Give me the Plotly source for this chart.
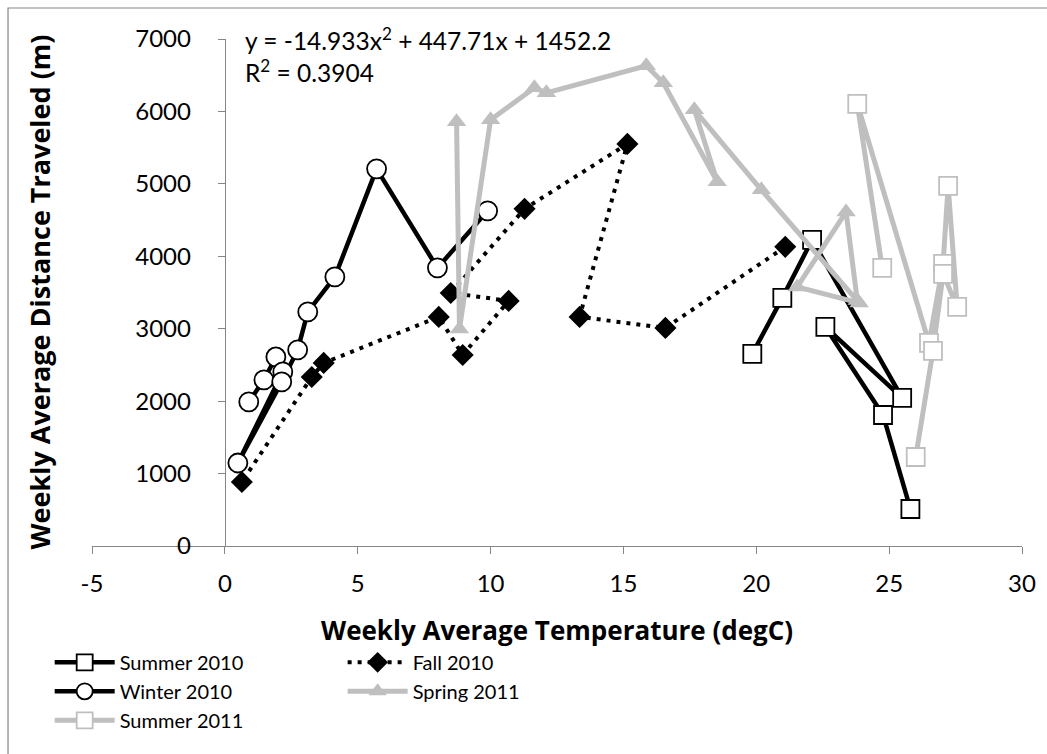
import plotly.graph_objects as go

# ---- data ----
summer2010_x = [19.85, 20.98, 22.1, 25.49, 22.6, 24.77, 25.8]
summer2010_y = [2652, 3425, 4227, 2044, 3025, 1809, 511]

fall2010_x = [21.09, 16.58, 13.35, 15.15, 11.28, 8.5, 10.68, 8.95, 8.05, 3.72, 3.27, 0.64]
fall2010_y = [4130, 3011, 3163, 5552, 4655, 3494, 3384, 2638, 3163, 2528, 2334, 884]

winter2010_x = [0.9, 1.47, 1.92, 2.18, 0.49, 2.14, 2.74, 3.12, 4.14, 5.71, 8.0, 9.89]
winter2010_y = [1989, 2293, 2610, 2403, 1146, 2265, 2707, 3232, 3715, 5207, 3840, 4627]

spring2011_x = [8.72, 8.83, 10.0, 11.65, 12.1, 15.86, 16.5, 18.53, 17.67, 20.19, 23.87, 21.54, 23.38, 23.8]
spring2011_y = [5856, 2997, 5884, 6326, 6257, 6630, 6395, 5028, 6022, 4917, 3356, 3577, 4613, 3390]

summer2011_x = [24.74, 23.8, 26.5, 27.03, 27.22, 27.56, 27.03, 26.65, 26.0]
summer2011_y = [3840, 6105, 2804, 3895, 4972, 3301, 3757, 2693, 1229]

x_ticks = [-5, 0, 5, 10, 15, 20, 25, 30]
x_tick_text = ["-5", "0", "5", "10", "15", "20", "25", "30"]
y_ticks = [0, 1000, 2000, 3000, 4000, 5000, 6000, 7000]
y_tick_text = ["0", "1000", "2000", "3000", "4000", "5000", "6000", "7000"]

equation_text = "y = -14.933x<sup>2</sup> + 447.71x + 1452.2"
r2_text = "R<sup>2</sup> = 0.3904"

FONT = "Lato"
TITLE_FONT = "Open Sans"
GRAY = "#BFBFBF"
AXIS = "#868686"

fig = go.Figure()

fig.add_trace(go.Scatter(
    x=summer2010_x, y=summer2010_y, name="Summer 2010", mode="lines+markers",
    line=dict(color="black", width=4.5),
    marker=dict(symbol="square", size=18, color="white", line=dict(color="black", width=1.8)),
    legend="legend"))

fig.add_trace(go.Scatter(
    x=fall2010_x, y=fall2010_y, name="Fall 2010", mode="lines+markers",
    line=dict(color="black", width=4, dash="4px,6px"),
    marker=dict(symbol="diamond", size=17, color="black", line=dict(color="black", width=0)),
    legend="legend2"))

fig.add_trace(go.Scatter(
    x=winter2010_x, y=winter2010_y, name="Winter 2010", mode="lines+markers",
    line=dict(color="black", width=4.5),
    marker=dict(symbol="circle", size=19, color="white", line=dict(color="black", width=1.8)),
    legend="legend"))

fig.add_trace(go.Scatter(
    x=spring2011_x, y=spring2011_y, name="Spring 2011", mode="lines+markers",
    line=dict(color=GRAY, width=5),
    marker=dict(symbol="triangle-up", size=17, color=GRAY, line=dict(color=GRAY, width=0)),
    legend="legend2"))

fig.add_trace(go.Scatter(
    x=summer2011_x, y=summer2011_y, name="Summer 2011", mode="lines+markers",
    line=dict(color=GRAY, width=5),
    marker=dict(symbol="square", size=18, color="white", line=dict(color=GRAY, width=1.8)),
    legend="legend"))

fig.add_annotation(x=0.7, y=7000, xref="x", yref="y", text=equation_text,
                   showarrow=False, xanchor="left", yanchor="middle",
                   font=dict(family=FONT, size=24.5, color="black"))
fig.add_annotation(x=0.7, y=6560, xref="x", yref="y", text=r2_text,
                   showarrow=False, xanchor="left", yanchor="middle",
                   font=dict(family=FONT, size=24.5, color="black"))

# axis titles
fig.add_annotation(x=0.5, y=0, xref="paper", yref="paper", yshift=-84,
                   text="<b>Weekly Average Temperature (degC)</b>", showarrow=False,
                   xanchor="center", yanchor="middle",
                   font=dict(family=TITLE_FONT, size=26, color="black"))
fig.add_annotation(x=0, y=0.5, xref="paper", yref="paper", xshift=-53,
                   text="<b>Weekly Average Distance Traveled (m)</b>", showarrow=False,
                   textangle=-90, xanchor="center", yanchor="middle",
                   font=dict(family=TITLE_FONT, size=27, color="black"))

# outer chart border
fig.add_shape(type="rect", xref="paper", yref="paper",
              x0=-0.0903, x1=1.2, y0=-0.6, y1=1.0611,
              line=dict(color=AXIS, width=1.2), fillcolor="rgba(0,0,0,0)", layer="below")

fig.update_layout(
    width=1047, height=754,
    margin=dict(l=92, r=24.5, t=39, b=208),
    paper_bgcolor="white", plot_bgcolor="white",
    font=dict(family=FONT, color="black"),
    xaxis=dict(range=[-5, 30], tickvals=x_ticks, ticktext=x_tick_text,
               showgrid=False, zeroline=False,
               showline=True, linecolor=AXIS, linewidth=1.2,
               ticks="outside", ticklen=7, tickcolor=AXIS, tickwidth=1.2,
               tickfont=dict(family=FONT, size=24), ticklabelstandoff=9),
    yaxis=dict(range=[0, 7000], tickvals=y_ticks, ticktext=y_tick_text,
               showgrid=False, zeroline=False,
               anchor="free", position=5 / 35,
               showline=True, linecolor=AXIS, linewidth=1.2,
               ticks="outside", ticklen=7, tickcolor=AXIS, tickwidth=1.2,
               tickfont=dict(family=FONT, size=24), ticklabelstandoff=22),
    legend=dict(x=-0.0455, y=-0.191, xanchor="left", yanchor="top",
                orientation="v", font=dict(family=FONT, size=20),
                bgcolor="rgba(0,0,0,0)", itemwidth=60, tracegroupgap=0),
    legend2=dict(x=0.2695, y=-0.191, xanchor="left", yanchor="top",
                 orientation="v", font=dict(family=FONT, size=20),
                 bgcolor="rgba(0,0,0,0)", itemwidth=60, tracegroupgap=0),
    showlegend=True,
)

fig.write_html("out.html")
